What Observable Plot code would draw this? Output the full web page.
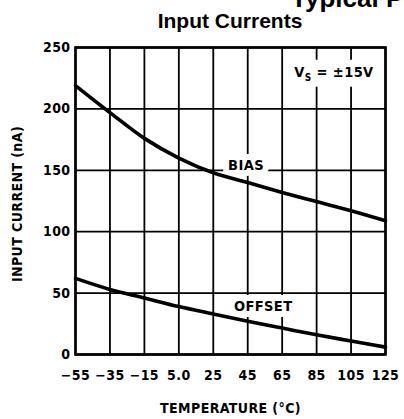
<!DOCTYPE html>
<html><head><meta charset="utf-8">
<script src="https://cdn.jsdelivr.net/npm/d3@7"></script>
<script src="https://cdn.jsdelivr.net/npm/@observablehq/plot@0.6"></script>
<style>
body{margin:0;background:#fff;}
#wrap{position:relative;width:404px;height:419px;overflow:hidden;background:#fff;}
.t{position:absolute;font-family:"Liberation Sans",Arial,sans-serif;font-weight:bold;white-space:nowrap;color:#000;}
#chart{position:absolute;left:0;top:0;}
</style></head><body>
<div id="wrap">
<div id="chart"></div>
<div class="t" style="left:291px;top:-15px;font-size:26px;line-height:26px;">Typical Performance Characteristics</div>
<div class="t" style="left:230px;top:10px;font-size:21px;line-height:21px;transform:translateX(-50%);">Input Currents</div>
</div>
<script>
const temps = [-55, -35, -15, 5, 25, 45, 65, 85, 105, 125];
const biasNA = [219, 197, 176, 160, 148, 140, 132, 124.5, 117, 109];
const offsetNA = [62, 53, 46, 39, 33, 27, 21.5, 16, 11, 6];
const xTicks = [-55, -35, -15, 5, 25, 45, 65, 85, 105, 125];
const xTickLabels = ["−55", "−35", "−15", "5.0", "25", "45", "65", "85", "105", "125"];
const yTicks = [0, 50, 100, 150, 200, 250];
const seriesNames = ["BIAS", "OFFSET"];
const xLabel = "TEMPERATURE (°C)";
const yLabel = "INPUT CURRENT (nA)";
const condition = "VS = ±15V";

const rows = [
  ...temps.map((t, i) => ({t, v: biasNA[i], s: seriesNames[0]})),
  ...temps.map((t, i) => ({t, v: offsetNA[i], s: seriesNames[1]}))
];
const seriesLabels = [
  {t: 44, v: 154, text: seriesNames[0]},
  {t: 54, v: 39.5, text: seriesNames[1]}
];

const font = '"DejaVu Sans Condensed","Liberation Sans",Arial,sans-serif';

const chart = Plot.plot({
  width: 404,
  height: 419,
  marginLeft: 75,
  marginRight: 19,
  marginTop: 47,
  marginBottom: 65,
  style: {fontFamily: font, fontWeight: "bold", fontSize: "14px", letterSpacing: "0.4px", background: "white", color: "black"},
  x: {domain: [-55, 125], ticks: xTicks},
  y: {domain: [0, 250], ticks: yTicks},
  marks: [
    Plot.gridX(xTicks, {stroke: "black", strokeOpacity: 1, strokeWidth: 1.8}),
    Plot.gridY(yTicks, {stroke: "black", strokeOpacity: 1, strokeWidth: 1.8}),
    Plot.text(seriesLabels, {x: "t", y: "v", text: "text", fill: "black", stroke: "white", strokeWidth: 12, fontSize: 14.5}),
    Plot.text([condition], {x: () => 72, y: () => 230, text: d => d, textAnchor: "start", fill: "black", fontSize: 14.5}),
    Plot.frame({stroke: "black", strokeWidth: 2.6}),
    Plot.line(rows, {x: "t", y: "v", z: "s", stroke: "black", strokeWidth: 3.6, curve: "catmull-rom"}),
    Plot.axisX(xTicks, {tickSize: 0, tickPadding: 16, tickFormat: (d, i) => xTickLabels[i], label: null, fontSize: 14}),
    Plot.axisY(yTicks, {tickSize: 0, tickPadding: 5, label: null, fontSize: 14}),
    Plot.text([xLabel], {frameAnchor: "bottom", dy: 54, text: d => d, fontSize: 14, lineAnchor: "middle"}),
    Plot.text([yLabel], {frameAnchor: "left", dx: -58, dy: 3, rotate: -90, text: d => d, fontSize: 14, textAnchor: "middle", lineAnchor: "middle"})
  ]
});
document.getElementById("chart").appendChild(chart);
// subscript S in the supply-voltage note, with a white knock-out behind it
const ns = "http://www.w3.org/2000/svg";
for (const el of chart.querySelectorAll("text")) {
  if (el.textContent === condition) {
    el.textContent = "";
    const a = document.createElementNS(ns, "tspan"); a.textContent = "V";
    const b = document.createElementNS(ns, "tspan"); b.textContent = "S"; b.setAttribute("dy", "4"); b.setAttribute("font-size", "10");
    const c = document.createElementNS(ns, "tspan"); c.textContent = " = ±15V"; c.setAttribute("dy", "-4");
    el.append(a, b, c);
    const bb = el.getBBox();
    const r = document.createElementNS(ns, "rect");
    r.setAttribute("x", bb.x - 4); r.setAttribute("y", bb.y - 4);
    r.setAttribute("width", bb.width + 8); r.setAttribute("height", bb.height + 8);
    r.setAttribute("fill", "white");
    if (el.getAttribute("transform")) r.setAttribute("transform", el.getAttribute("transform"));
    el.parentNode.insertBefore(r, el);
  }
}
</script>
</body></html>
